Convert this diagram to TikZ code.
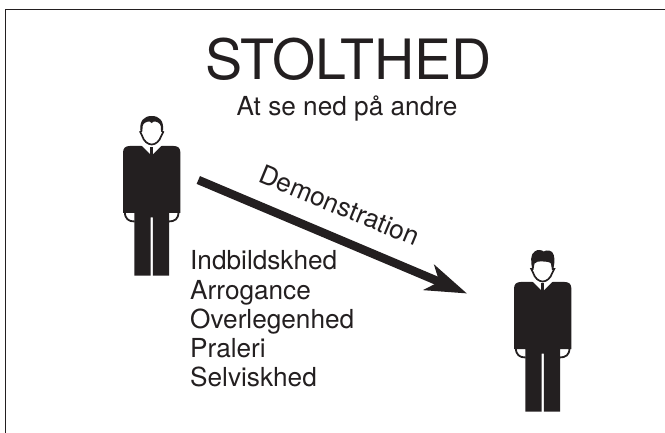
\documentclass[tikz,border=0pt]{standalone}
\usepackage{fontspec}
\setmainfont{TeX Gyre Heros}
\usetikzlibrary{arrows.meta}
\definecolor{ink}{HTML}{231F20}
\newcommand{\personfig}[1]{%
  \begin{scope}[shift={(#1)}]
    \draw[armline] (-26.8,212) .. controls (-26.8,219) and (-23,221.5) .. (-17,221.5);
    \draw[armline] (26.8,212) .. controls (26.8,219) and (23,221.5) .. (17,221.5);
    \fill[ink] (-28.6,152) .. controls (-28.6,148) and (-26,146) .. (-22,146)
      -- (22,146) .. controls (26,146) and (28.6,148) .. (28.6,152)
      -- (28.6,213) -- (17.3,213) -- (17.3,275.7) -- (1.2,275.7) -- (1.2,217.5)
      -- (-1.2,217.5) -- (-1.2,275.7) -- (-17.3,275.7) -- (-17.3,213) -- (-28.6,213) -- cycle;
    \fill[white] (-10.5,145) -- (10.5,145) -- (0,155.5) -- cycle;
    \fill[ink] (-1.7,147.5) -- (1.7,147.5) -- (1.7,156) -- (-1.7,156) -- cycle;
  \end{scope}}
\tikzset{
  x=1pt,y=-1pt,
  armline/.style={draw=ink,line width=1.8pt},
  bigtitle/.style={font=\fontsize{55.6}{56}\selectfont,text=ink,anchor=base,inner sep=0pt},
  bodytext/.style={font=\fontsize{26.2}{26}\selectfont,text=ink,inner sep=0pt},
  listitem/.style={bodytext,anchor=base west},
  framing/.style={draw=ink,line width=1.2pt},
  facefill/.style={fill=white,draw=ink,line width=1.7pt},
}
\begin{document}
\begin{tikzpicture}
\useasboundingbox (0,0) rectangle (665,433);
\draw[framing] (5.6,433) -- (5.6,9.8) -- (665,9.8);
\node[bigtitle] (title) at (348.5,80) {STOLTHED};
\node[bodytext,anchor=base] (subtitle) at (347,116) {At se ned på andre};
% first figure
\personfig{151.7,0}
\begin{scope}[shift={(151.7,0)}]
  \fill[ink] (-11.4,130) .. controls (-12,121) and (-8,116) .. (0,116)
     .. controls (8,116) and (12,121) .. (11.4,130) -- cycle;
  \draw[facefill] (-9.9,126) .. controls (-9.5,122.5) and (-5,120) .. (-1.5,120.8)
     -- (0,122) -- (1.5,120.8) .. controls (5,120) and (9.5,122.5) .. (9.9,126)
     -- (10.2,131) -- (11.5,132) -- (9.5,136) .. controls (8,141) and (4,144.5) .. (0,144.5)
     .. controls (-4,144.5) and (-8,141) .. (-9.5,136) -- (-11.5,132) -- (-10.2,131) -- cycle;
\end{scope}
% second figure
\personfig{542.7,136}
\begin{scope}[shift={(542.7,136)}]
  \fill[ink] (-10.5,133) .. controls (-12,126) and (-12.5,118) .. (-8,115.5)
     .. controls (-5,113) and (-1,114) .. (1,115.5)
     .. controls (4,113.5) and (10,114) .. (11,119)
     .. controls (12.5,124) and (11.5,129) .. (10.5,133) -- cycle;
  \draw[facefill] (-9,127) .. controls (-7,125) and (-4,124) .. (-1,124.5)
     .. controls (3,125) and (7,124.5) .. (9,127)
     -- (10,133) -- (11.5,133) -- (9.5,137) .. controls (8,142) and (4,145.5) .. (0,145.5)
     .. controls (-4,145.5) and (-8,142) .. (-9.5,137) -- (-11.5,133) -- (-10,133) -- cycle;
\end{scope}
% arrow
\coordinate (arrowstart) at (198.3,180);
\coordinate (arrowend) at (467,293.5);
\draw[draw=ink,line width=8.5pt,-{Stealth[length=41pt,width=27pt,inset=11pt,fill=ink]}] (arrowstart) -- (arrowend);
\node[bodytext,anchor=base,rotate=-22.5] (demo) at (336,214) {Demonstration};
\node[listitem] (l1) at (190,270) {Indbildskhed};
\node[listitem] (l2) at (190,299.2) {Arrogance};
\node[listitem] (l3) at (190,328.4) {Overlegenhed};
\node[listitem] (l4) at (190,357.6) {Praleri};
\node[listitem] (l5) at (190,386.8) {Selviskhed};
\end{tikzpicture}
\end{document}
